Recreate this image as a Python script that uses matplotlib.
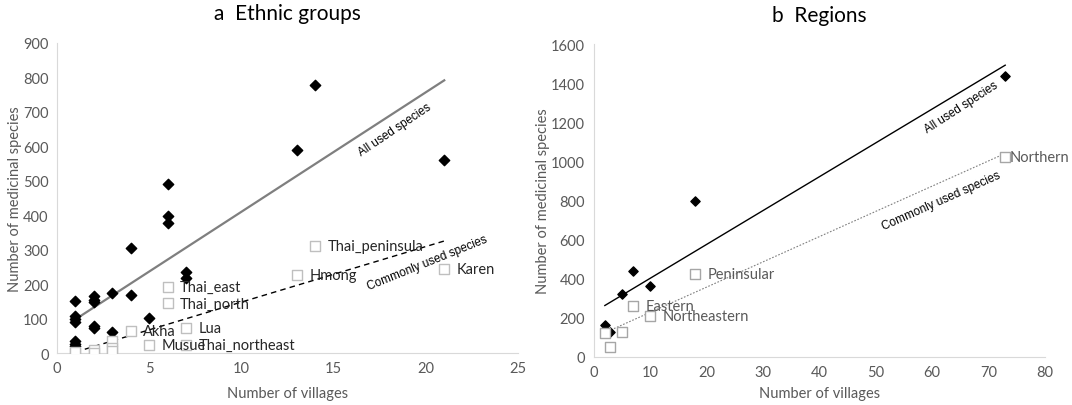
import numpy as np
import matplotlib
matplotlib.use("Agg")
import matplotlib.pyplot as plt

plt.rcParams['font.family'] = ['Lato', 'DejaVu Sans']

# Panel a: ethnic groups
eth_all_x = [1, 1, 1, 1, 1, 1, 1, 2, 2, 2, 2, 2, 3, 3, 4, 4, 5, 6, 6, 6, 7, 7, 13, 14, 21]
eth_all_y = [150, 108, 100, 90, 36, 26, 19, 166, 154, 148, 78, 72, 174, 60, 304, 168, 102,
             490, 397, 377, 236, 218, 590, 778, 560]

eth_com_x = [1, 1, 2, 2, 3, 3, 3, 4, 5, 6, 6, 7, 7, 13, 14, 21]
eth_com_y = [0, 3, 8, 0, 35, 15, 5, 63, 22, 193, 144, 73, 24, 227, 310, 245]
eth_com_labels = ['', '', '', '', '', '', '', 'Akha', 'Musue', 'Thai_east', 'Thai_north', 'Lua',
                  'Thai_northeast', 'Hmong', 'Thai_peninsula', 'Karen']

# Panel b: regions
reg_all_x = [2, 3, 5, 7, 10, 18, 73]
reg_all_y = [162, 125, 320, 437, 363, 795, 1435]

reg_com_x = [2, 3, 5, 7, 10, 18, 73]
reg_com_y = [122, 49, 127, 257, 209, 421, 1020]
reg_com_labels = ['', '', '', 'Eastern', 'Northeastern', 'Peninsular', 'Northern']

GRAY = '#595959'
AXIS_GRAY = '#d9d9d9'


def style_axes(ax, xlim, ylim, xticks, yticks, xpad):
    ax.set_xlim(*xlim)
    ax.set_ylim(*ylim)
    ax.set_xticks(xticks)
    ax.set_yticks(yticks)
    for s in ['top', 'right']:
        ax.spines[s].set_visible(False)
    for s in ['left', 'bottom']:
        ax.spines[s].set_color(AXIS_GRAY)
    ax.tick_params(length=0, labelsize=10.5, colors=GRAY, pad=6)
    ax.set_xlabel('Number of villages', fontsize=10.5, color=GRAY, labelpad=xpad)
    ax.set_ylabel('Number of medicinal species', fontsize=10.5, color=GRAY, labelpad=1)


def trend(ax, x, y, **kw):
    # least squares trend line across the data range
    m, b = np.polyfit(x, y, 1)
    xs = np.array([min(x), max(x)])
    ax.plot(xs, m * xs + b, **kw)


def line_label(ax, x, y, text, angle):
    ax.text(x, y, text, rotation=angle, rotation_mode='anchor', ha='center', va='center',
            fontsize=8.5, family=['Liberation Sans'], color='black', zorder=5)


fig = plt.figure(figsize=(10.72, 4.06), dpi=100)
ax1 = fig.add_axes([0.0532, 0.128, 0.43, 0.764])
ax2 = fig.add_axes([0.5537, 0.119, 0.4208, 0.7696])

# ---- panel a
style_axes(ax1, (0, 25), (0, 900), range(0, 26, 5), range(0, 901, 100), 8)
trend(ax1, eth_all_x, eth_all_y, color='#7f7f7f', lw=1.6, zorder=2)
trend(ax1, eth_com_x, eth_com_y, color='black', lw=1.0, ls=(0, (4, 3)), zorder=2)
ax1.scatter(eth_all_x, eth_all_y, marker='D', s=28, color='black', zorder=3)
ax1.scatter(eth_com_x, eth_com_y, marker='s', s=60, facecolor='white', edgecolor='#bfbfbf',
            linewidth=1.0, zorder=3)
for x, y, lab in zip(eth_com_x, eth_com_y, eth_com_labels):
    if lab:
        ax1.annotate(lab, (x, y), xytext=(9, 0), textcoords='offset points', va='center',
                     ha='left', fontsize=10.5, color='#262626', zorder=4)
ax1.set_title('a  Ethnic groups', fontsize=15, pad=17)
line_label(ax1, 18.3, 650, 'All used species', 34)
line_label(ax1, 20.1, 262, 'Commonly used species', 22)

# ---- panel b
style_axes(ax2, (0, 80), (0, 1600), range(0, 81, 10), range(0, 1601, 200), 5)
trend(ax2, reg_all_x, reg_all_y, color='black', lw=1.0, zorder=2)
trend(ax2, reg_com_x, reg_com_y, color='#7f7f7f', lw=0.8, ls=(0, (1.5, 1.5)), zorder=2)
ax2.scatter(reg_all_x, reg_all_y, marker='D', s=22, color='black', zorder=3)
ax2.scatter(reg_com_x, reg_com_y, marker='s', s=55, facecolor='white', edgecolor='#a6a6a6',
            linewidth=1.0, zorder=3)
for x, y, lab in zip(reg_com_x, reg_com_y, reg_com_labels):
    if lab:
        off = 3 if lab == 'Northern' else 9
        ax2.annotate(lab, (x, y), xytext=(off, 0), textcoords='offset points', va='center',
                     ha='left', fontsize=10.5, color=GRAY, zorder=4)
ax2.set_title('b  Regions', fontsize=15, pad=17)
line_label(ax2, 65.3, 1281, 'All used species', 33)
line_label(ax2, 61.6, 800, 'Commonly used species', 24)

fig.savefig('out.png', dpi=100)
